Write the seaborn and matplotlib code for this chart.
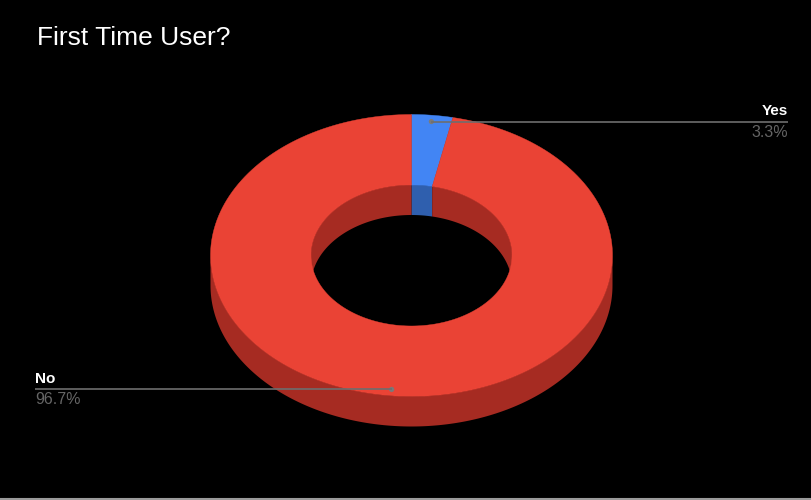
import numpy as np
import matplotlib
matplotlib.use("Agg")
import matplotlib.pyplot as plt
import seaborn as sns

# Survey answers and their shares (percent)
answers = ["Yes", "No"]
shares = [3.3, 96.7]
top_colors = ["#4285F4", "#EA4335"]
side_colors = ["#2F5FAE", "#A62B22"]
title = "First Time User?"

sns.set_theme(style="dark")
plt.rcParams["font.family"] = ["Liberation Sans", "DejaVu Sans"]

W, H = 811, 500
fig = plt.figure(figsize=(W / 100, H / 100), dpi=100, facecolor="black")
ax = fig.add_axes([0, 0, 1, 1])
ax.set_facecolor("black")
ax.set_xlim(0, W)
ax.set_ylim(H, 0)
ax.axis("off")

# Tilted ring geometry (pixel units, y grows downward)
CX, CY = 411.5, 255.5
RX, RY = 201.0, 141.0
HOLE = 0.5
DEPTH = 30.0


def pt(theta_deg, r, z=0.0):
    t = np.radians(theta_deg)
    return CX + r * RX * np.sin(t), CY - r * RY * np.cos(t) + z


def arc(a, b, r, z=0.0, n=200):
    th = np.linspace(a, b, n)
    return pt(th, r, z)


def clip(a, b, lo, hi):
    lo2, hi2 = max(a, lo), min(b, hi)
    return (lo2, hi2) if hi2 > lo2 else None


bounds = np.concatenate([[0], np.cumsum(shares)]) / sum(shares) * 360.0
slices = list(zip(bounds[:-1], bounds[1:]))

# Outer wall: visible on the near half of the ring
for (a, b), col in zip(slices, side_colors):
    seg = clip(a, b, 90, 270)
    if seg:
        x1, y1 = arc(*seg, 1.0)
        x2, y2 = arc(seg[1], seg[0], 1.0, DEPTH)
        ax.fill(np.r_[x1, x2], np.r_[y1, y2], color=col, lw=0)

# Inner wall: visible through the hole on the far half
for (a, b), col in zip(slices, side_colors):
    for lo, hi in [(-90, 90), (270, 450)]:
        seg = clip(a, b, lo, hi)
        if seg:
            x1, y1 = arc(*seg, HOLE)
            x2, y2 = arc(seg[1], seg[0], HOLE, DEPTH)
            ax.fill(np.r_[x1, x2], np.r_[y1, y2], color=col, lw=0)

# Top face of the ring
for (a, b), col in zip(slices, top_colors):
    x1, y1 = arc(a, b, 1.0)
    x2, y2 = arc(b, a, HOLE)
    ax.fill(np.r_[x1, x2], np.r_[y1, y2], color=col, lw=0.3, ec=col)

# Leader lines with labels
line_col = "#6e6e6e"
pct_col = "#656565"
label_r = 0.955
sides = {"Yes": ("right", 788), "No": ("left", 35)}
for name, share, (a, b) in zip(answers, shares, slices):
    mx, my = pt((a + b) / 2, label_r)
    ha, ex = sides[name]
    ax.plot([mx, ex], [my, my], color=line_col, lw=1.2, solid_capstyle="butt")
    sns.scatterplot(x=[mx], y=[my], ax=ax, color="#7a7a7a", s=14,
                    edgecolor="none", legend=False)
    ax.text(ex, my - 3.5, name, ha=ha, va="bottom", color="white",
            fontsize=11, fontweight="bold")
    ax.text(ex, my + 3, f"{share:.1f}%", ha=ha, va="top", color=pct_col,
            fontsize=11.5)

ax.text(37, 38, title, ha="left", va="center", color="white", fontsize=19)

# thin grey rule along the bottom edge
ax.plot([0, W], [H - 1.5, H - 1.5], color="#9a9a9a", lw=1.5)

fig.savefig("out.png", dpi=100, facecolor="black")
